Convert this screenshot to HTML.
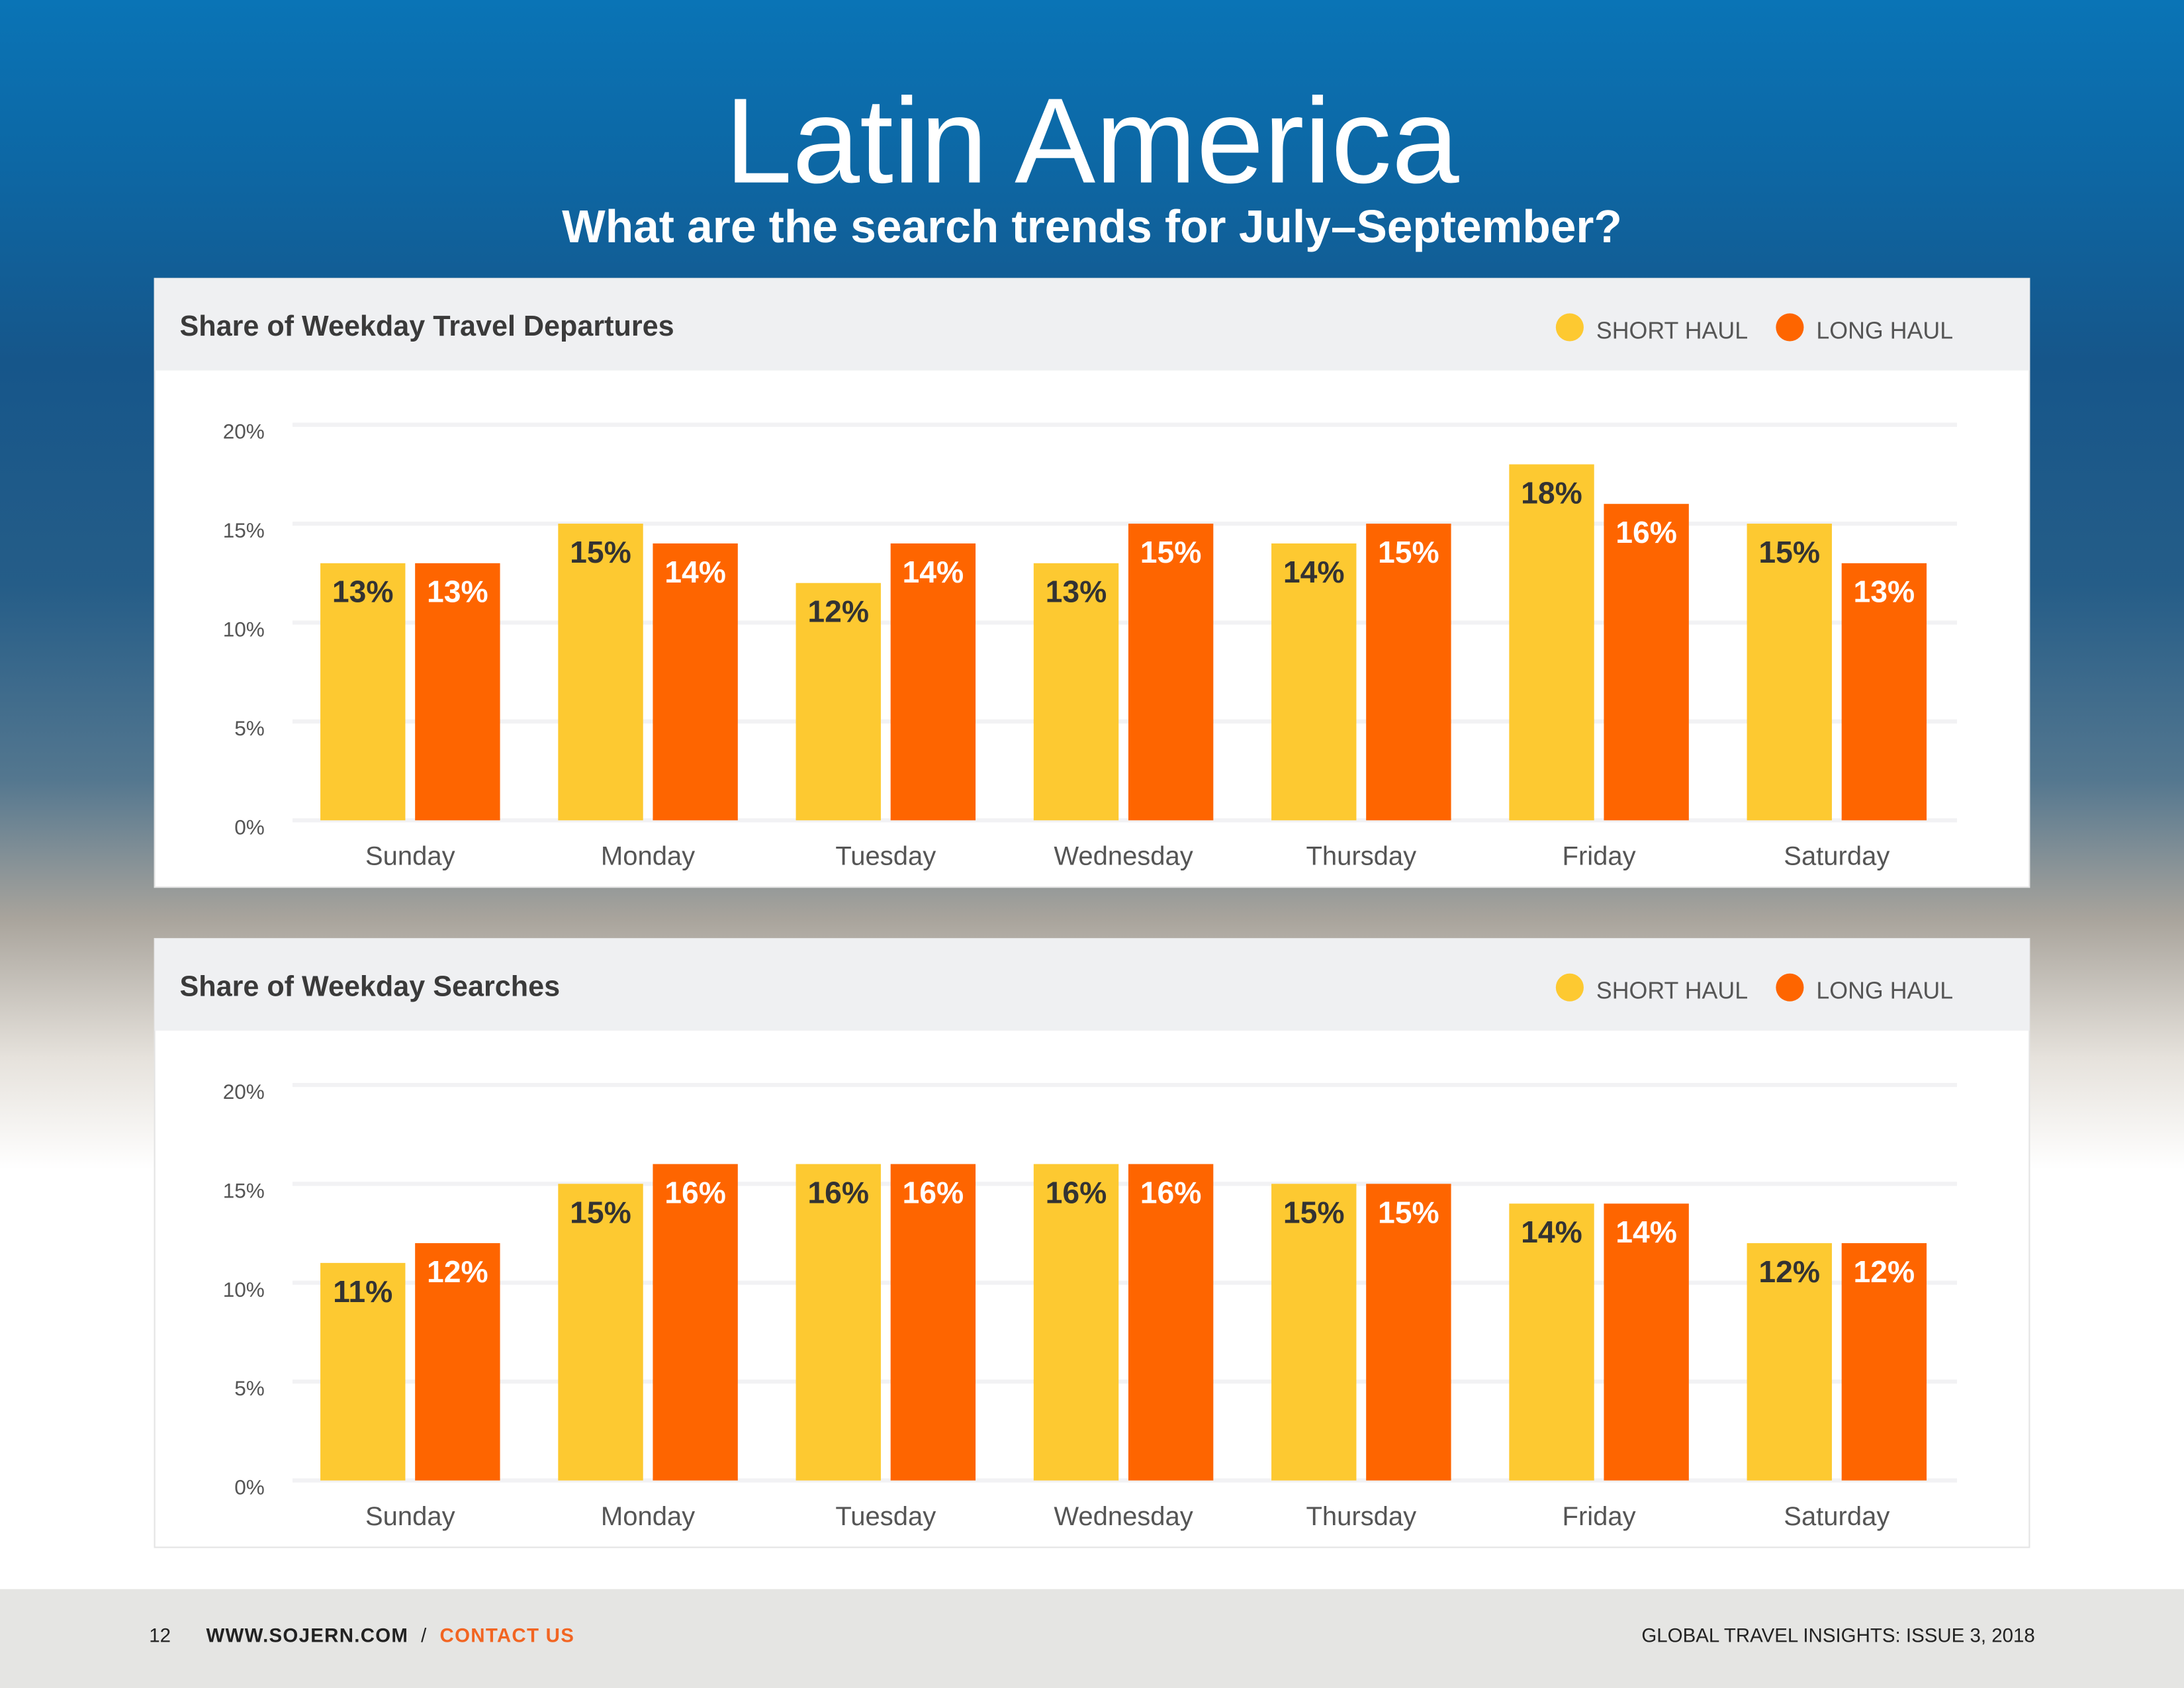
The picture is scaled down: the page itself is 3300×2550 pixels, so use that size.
<!DOCTYPE html>
<html><head><meta charset="utf-8"><style>
html,body{margin:0;padding:0;width:3300px;height:2550px;overflow:hidden;background:#fff}
#page{position:absolute;left:0;top:0;width:1568px;height:1212px;transform:scale(2.10459,2.10396);transform-origin:0 0;font-family:"Liberation Sans",sans-serif}
#bg{position:absolute;left:0;top:0;width:1568px;height:1141px;background:linear-gradient(180deg,#0a74b6 0px,#0d67a4 120px,#16568a 260px,#255d88 420px,#54778f 560px,#a9a49c 660px,#e6e2dc 760px,#fff 840px,#fff 1141px)}
#footer{position:absolute;left:0;top:1141px;width:1568px;height:71px;background:#e5e5e3}
.t{position:absolute;white-space:nowrap}
</style></head><body>
<div id="page">
<div id="bg"></div>
<div class="t" style="left:0;width:1568px;text-align:center;top:52px;font-size:87px;font-weight:300;color:#fff;letter-spacing:0px;">Latin America</div>
<div class="t" style="left:0;width:1568px;text-align:center;top:144px;font-size:33px;font-weight:bold;color:#fff;">What are the search trends for July–September?</div>
<svg id="chart" width="1568" height="1212" style="position:absolute;left:0;top:0"></svg>
<div id="footer"></div>
<div class="t" style="left:107px;top:1166px;font-size:14px;color:#222">12</div>
<div class="t" style="left:148px;top:1166px;font-size:14px;color:#222;font-weight:bold;letter-spacing:0.6px">WWW.SOJERN.COM <span style="font-weight:normal">&nbsp;/&nbsp;</span> <span style="color:#f26522">CONTACT US</span></div>
<div class="t" style="right:107px;top:1166px;font-size:14px;color:#222">GLOBAL TRAVEL INSIGHTS: ISSUE 3, 2018</div>
</div>
<script>
const days=["Sunday","Monday","Tuesday","Wednesday","Thursday","Friday","Saturday"];
const ticks=[0,5,10,15,20];
const depShort=[13,15,12,13,14,18,15];
const depLong=[13,14,14,15,15,16,13];
const srchShort=[11,15,16,16,15,14,12];
const srchLong=[12,16,16,16,15,14,12];
const titles=["Share of Weekday Travel Departures","Share of Weekday Searches"];
const NS="http://www.w3.org/2000/svg";
const svg=document.getElementById('chart');
function mk(tag,attrs,parent){const e=document.createElementNS(NS,tag);for(const k in attrs)e.setAttribute(k,attrs[k]);(parent||svg).appendChild(e);return e;}
function panel(top,title,shortV,longV,key){
  const g=mk('g',{});
  
  
  const card=mk('rect',{x:111,y:top,width:1346,height:437,fill:'#fff',stroke:'#e4e4e4'},g);
  
  
  const hd=mk('rect',{x:111,y:top,width:1346,height:66,fill:'#eff0f2'},g);
  
  
  const tt=mk('text',{x:129,y:top+41,'font-size':20.5,'font-weight':'bold',fill:'#3a3a3a','font-family':'Liberation Sans'},g);
  tt.textContent=title;
  
  
  const legs=[["SHORT HAUL","#fdc931",1127],["LONG HAUL","#fe6500",1285]];
  legs.forEach(l=>{
    const c=mk('circle',{cx:l[2],cy:top+35,r:10,fill:l[1]},g);
    
    
    const lt=mk('text',{x:l[2]+19,y:top+43,'font-size':17,fill:'#555','font-family':'Liberation Sans'},g);
    lt.textContent=l[0];
    
    
  });
  const y0=top+389, ppu=14.2;
  const y=v=>y0-v*ppu;
  ticks.forEach(t=>{
    const ln=mk('line',{x1:210,x2:1405,y1:y(t),y2:y(t),stroke:'#f2f2f4','stroke-width':3},g);
    
    
    const tx=mk('text',{x:190,y:y(t)+10,'font-size':15,fill:'#555','text-anchor':'end','font-family':'Liberation Sans'},g);
    tx.textContent=t+'%';
    
    
  });
  const x0=294.5, step=170.7, bw=61;
  days.forEach((d,i)=>{
    const cx=x0+i*step;
    [[shortV[i],'#fdc931','#333',cx-64.5],[longV[i],'#fe6500','#fff',cx+3.5]].forEach((b,j)=>{
      const r=mk('rect',{x:b[3],y:y(b[0]),width:bw,height:b[0]*ppu,fill:b[1]},g);
      
      
      const v=mk('text',{x:b[3]+bw/2,y:y(b[0])+28,'font-size':22,'font-weight':'bold',fill:b[2],'text-anchor':'middle','font-family':'Liberation Sans'},g);
      v.textContent=b[0]+'%';
      
      
    });
    const dl=mk('text',{x:cx,y:y0+32,'font-size':19,fill:'#555','text-anchor':'middle','font-family':'Liberation Sans'},g);
    dl.textContent=d;
    
    
  });
}
panel(200,titles[0],depShort,depLong,'departures');
panel(674,titles[1],srchShort,srchLong,'searches');
</script>
</body></html>
